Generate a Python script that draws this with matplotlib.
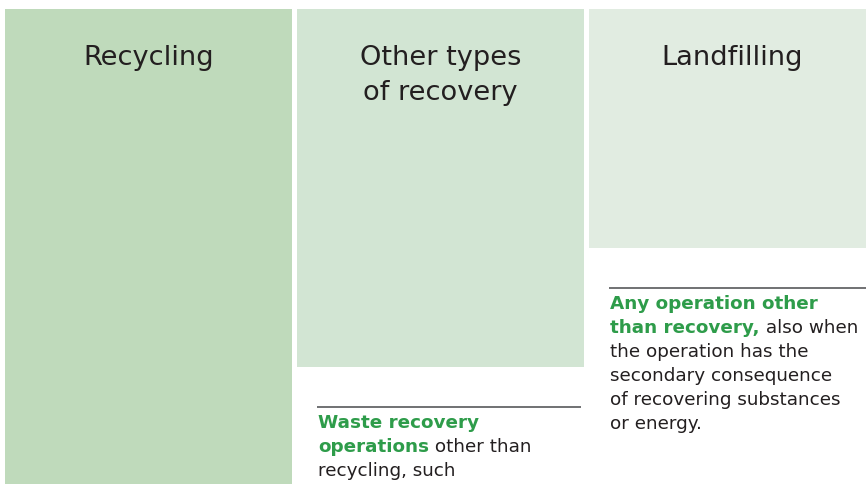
import matplotlib
matplotlib.use("Agg")
import matplotlib.pyplot as plt
from matplotlib.transforms import offset_copy

# ---- data ----
categories = ["Recycling", "Other types\nof recovery", "Landfilling"]
values = [4, 3, 2]          # relative depth of each column (hangs from the top)
colors = ["#bfdabb", "#d2e5d3", "#e1ece1"]

# descriptive notes under the shorter columns: list of lines, each a list of (text, bold)
notes = {
    1: [[("Waste recovery", True)],
        [("operations", True), (" other than", False)],
        [("recycling, such", False)]],
    2: [[("Any operation other", True)],
        [("than recovery,", True), (" also when", False)],
        [("the operation has the", False)],
        [("secondary consequence", False)],
        [("of recovering substances", False)],
        [("or energy.", False)]],
}

GREEN = "#2e9c4a"
DARK = "#231f20"
RULE = "#58595b"

fig = plt.figure(figsize=(8.66, 4.84), dpi=100)
ax = fig.add_axes([0, 0, 1, 1])
ax.set_axis_off()

width = 0.983
x = list(range(len(categories)))
ax.bar(x, values, width=width, bottom=0, color=colors, linewidth=0)
ax.set_xlim(-0.5086, 2.457)
ax.set_ylim(3.978, -0.0754)

title_font = dict(family=["DejaVu Sans"], fontsize=19.6, color=DARK, weight="normal")
body_font = dict(family=["DejaVu Sans"], fontsize=13.2)

for i, cat in enumerate(categories):
    for k, line in enumerate(cat.split("\n")):
        t = offset_copy(ax.transData, fig=fig, x=0, y=-56 - 35 * k, units="dots")
        ax.text(i, 0, line, transform=t, ha="center", va="baseline", **title_font)

for i, lines in notes.items():
    left = x[i] - width / 2
    right = x[i] + width / 2
    v = values[i]
    tr = offset_copy(ax.transData, fig=fig, x=20, y=-40, units="dots")
    tr2 = offset_copy(ax.transData, fig=fig, x=-3, y=-40, units="dots")
    # rule line
    p0 = tr.transform((left, v))
    p1 = tr2.transform((right, v))
    ax.plot([p0[0], p1[0]], [p0[1], p1[1]], transform=None, color=RULE, lw=1.2,
            solid_capstyle="butt")
    for k, segs in enumerate(lines):
        tt = offset_copy(ax.transData, fig=fig, x=21, y=-61 - 24 * k, units="dots")
        prev = None
        for text, bold in segs:
            kw = dict(color=GREEN if bold else DARK, weight="bold" if bold else "normal",
                      **body_font)
            if prev is None:
                prev = ax.text(left, v, text, transform=tt, ha="left", va="baseline", **kw)
            else:
                prev = ax.annotate(text, xy=(1, 0), xycoords=prev, ha="left",
                                   va="bottom", **kw)

fig.savefig("out.png", dpi=100)
